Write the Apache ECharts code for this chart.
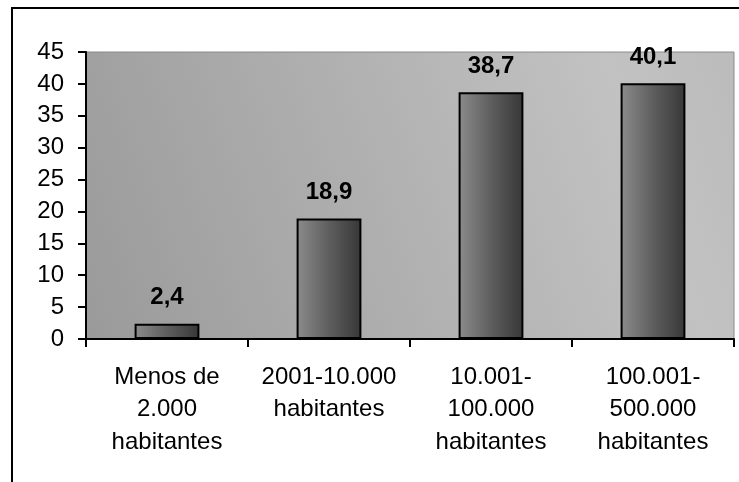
<!DOCTYPE html>
<html>
<head>
<meta charset="utf-8">
<script src="https://cdn.jsdelivr.net/npm/echarts@6/dist/echarts.min.js"></script>
<style>
html,body{margin:0;padding:0;background:#fff;}
#c{width:739px;height:482px;}
</style>
</head>
<body>
<div id="c"></div>
<script>
const categories = ['Menos de\n2.000\nhabitantes', '2001-10.000\nhabitantes', '10.001-\n100.000\nhabitantes', '100.001-\n500.000\nhabitantes'];
const values = [2.4, 18.9, 38.7, 40.1];
const yTicks = [0, 5, 10, 15, 20, 25, 30, 35, 40, 45];

const chart = echarts.init(document.getElementById('c'), null, {renderer: 'canvas'});
const font = 'Arial, "Liberation Sans", sans-serif';
chart.setOption({
  animation: false,
  backgroundColor: '#fff',
  graphic: [{
    type: 'rect', z: 100, silent: true,
    shape: {x: 12, y: 8, width: 900, height: 700},
    style: {fill: 'none', stroke: '#000', lineWidth: 2}
  }],
  grid: {
    left: 86, right: 5, top: 52, bottom: 143,
    show: true, borderWidth: 1, borderColor: '#8a8a8a',
    backgroundColor: {
      type: 'linear', x: 0, y: 1, x2: 1, y2: 0.2,
      colorStops: [
        {offset: 0, color: '#9a9a9a'},
        {offset: 0.85, color: '#c2c2c2'},
        {offset: 1, color: '#bcbcbc'}
      ]
    }
  },
  xAxis: {
    type: 'category', data: categories,
    axisLine: {lineStyle: {color: '#000', width: 2}},
    axisTick: {show: true, length: 8, lineStyle: {color: '#000', width: 2}},
    axisLabel: {color: '#000', fontSize: 24, fontFamily: font, lineHeight: 32.5, margin: 22, interval: 0}
  },
  yAxis: {
    type: 'value', min: yTicks[0], max: yTicks[yTicks.length - 1], interval: 5,
    splitLine: {show: false},
    axisLine: {show: true, lineStyle: {color: '#000', width: 2}},
    axisTick: {show: true, length: 8, lineStyle: {color: '#000', width: 2}},
    axisLabel: {color: '#000', fontSize: 24, fontFamily: font, margin: 22}
  },
  series: [{
    type: 'bar', data: values, barWidth: '40%',
    itemStyle: {
      borderColor: '#000', borderWidth: 2,
      color: {
        type: 'linear', x: 0, y: 0, x2: 1, y2: 0,
        colorStops: [
          {offset: 0, color: '#8c8c8c'},
          {offset: 0.5, color: '#5e5e5e'},
          {offset: 1, color: '#373737'}
        ]
      }
    },
    label: {
      show: true, position: 'top', distance: 14,
      color: '#000', fontSize: 24, fontWeight: 'bold', fontFamily: font,
      formatter: p => String(p.value).replace('.', ',')
    }
  }]
});
</script>
</body>
</html>
